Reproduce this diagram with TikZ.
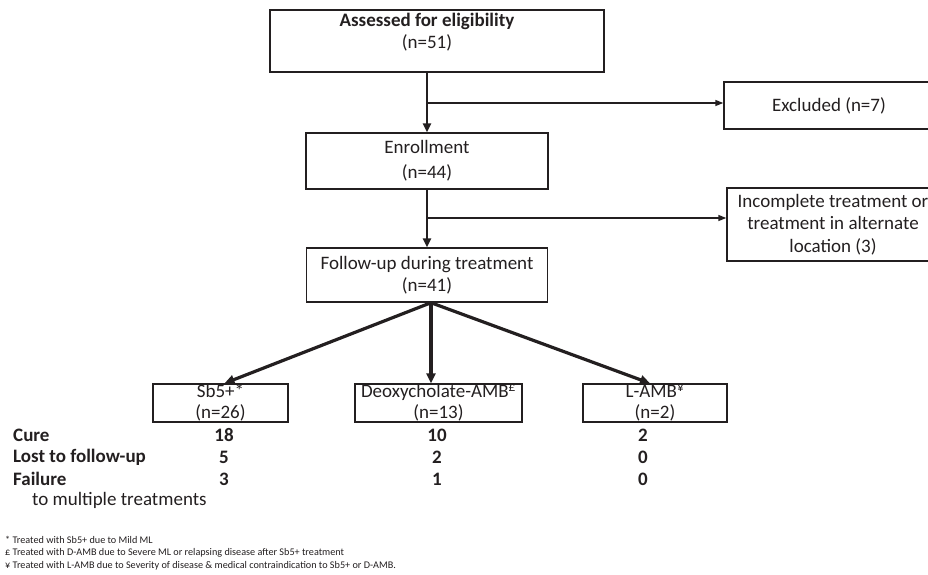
\documentclass[tikz,border=0pt]{standalone}
\usepackage{fontspec}
\setmainfont{Carlito}
\usetikzlibrary{arrows.meta}
\definecolor{ink}{HTML}{231F20}
\begin{document}
\begin{tikzpicture}[x=1pt,y=-1pt,
  boxshape/.style={draw=ink,line width=1.4pt,rectangle,inner sep=0pt},
  box/.style={boxshape,align=center,font=\fontsize{19}{22.5}\selectfont,text=ink},
  txt/.style={inner sep=0pt,align=center,font=\fontsize{19}{22}\selectfont,text=ink},
  num/.style={inner sep=0pt,font=\fontsize{19}{22}\selectfont\bfseries,text=ink},
  lab/.style={inner sep=0pt,anchor=west,font=\fontsize{19}{22}\selectfont\bfseries,text=ink},
  note/.style={inner sep=0pt,anchor=west,font=\fontsize{10.2}{12}\selectfont,text=ink},
  mainarrow/.style={draw=ink,line width=2.4pt,-{Triangle[length=9pt,width=8pt]}},
  sidearrow/.style={draw=ink,line width=1.4pt,-{Triangle[length=8pt,width=6pt]}},
  fanarrow/.style={draw=ink,line width=3.2pt,-{Triangle[length=10pt,width=9pt]}}
]
\useasboundingbox (0,0) rectangle (928,574);
\clip (0,0) rectangle (928,574);

% top box
\node[boxshape,minimum width=334pt,minimum height=62pt] (assessbox) at (437,41) {};
\node[txt] (assess) at (427,32.5) {\textbf{Assessed for eligibility}\\(n=51)};

\node[box,minimum width=242pt,minimum height=56pt,font=\fontsize{19}{25}\selectfont] (enroll) at (427,161) {Enrollment\\(n=44)};
\node[box,minimum width=241pt,minimum height=54pt] (follow) at (427,275) {Follow-up during treatment\\(n=41)};

\node[box,minimum width=210pt,minimum height=47pt] (excl) at (829,105.5) {Excluded (n=7)};
\node[box,minimum width=212pt,minimum height=73pt] (incomp) at (833,224.5) {Incomplete treatment or\\treatment in alternate\\location (3)};

\node[box,minimum width=135pt,minimum height=38pt,font=\fontsize{19}{21}\selectfont] (sb) at (220.5,403) {Sb5+*\\(n=26)};
\node[box,minimum width=167pt,minimum height=38pt,font=\fontsize{19}{21}\selectfont] (deoxy) at (438.5,403) {Deoxycholate-AMB\textsuperscript{£}\\(n=13)};
\node[box,minimum width=144pt,minimum height=38pt,font=\fontsize{19}{21}\selectfont] (lamb) at (655,403) {L-AMB\textsuperscript{¥}\\(n=2)};

% connectors
\draw[mainarrow] (assessbox.south -| enroll.north) -- (enroll.north);
\coordinate (b1) at (427,103);
\draw[sidearrow] (b1) -- (b1 -| excl.west);
\draw[mainarrow] (enroll.south) -- (follow.north);
\coordinate (b2) at (427,218);
\draw[sidearrow] (b2) -- (b2 -| incomp.west);

\coordinate (apex) at ([xshift=4pt]follow.south);
\draw[fanarrow] (apex) -- ([xshift=4pt]sb.north);
\draw[fanarrow] (apex) -- (apex |- deoxy.north);
\draw[fanarrow] (apex) -- ([xshift=-5pt]lamb.north);

% outcome table
\node[lab] (cure) at (13,435) {Cure};
\node[lab] (lost) at (13,457.5) {Lost to follow-up};
\node[lab] (fail) at (13,479) {Failure};
\node[txt,anchor=west] (multi) at (32,500.5) {to multiple treatments};

\node[num] (c1) at (224,435) {18};
\node[num] (c2) at (437,435) {10};
\node[num] (c3) at (643,435) {2};
\node[num] (l1) at (224,457.5) {5};
\node[num] (l2) at (437,457.5) {2};
\node[num] (l3) at (643,457.5) {0};
\node[num] (f1) at (224,479) {3};
\node[num] (f2) at (437,479) {1};
\node[num] (f3) at (643,479) {0};

% footnotes
\node[note] (n1) at (5,540) {* Treated with Sb5+ due to Mild ML};
\node[note] (n2) at (5,553) {£ Treated with D-AMB due to Severe ML or relapsing disease after Sb5+ treatment};
\node[note] (n3) at (5,566) {¥ Treated with L-AMB due to Severity of disease \& medical contraindication to Sb5+ or D-AMB.};
\end{tikzpicture}
\end{document}
